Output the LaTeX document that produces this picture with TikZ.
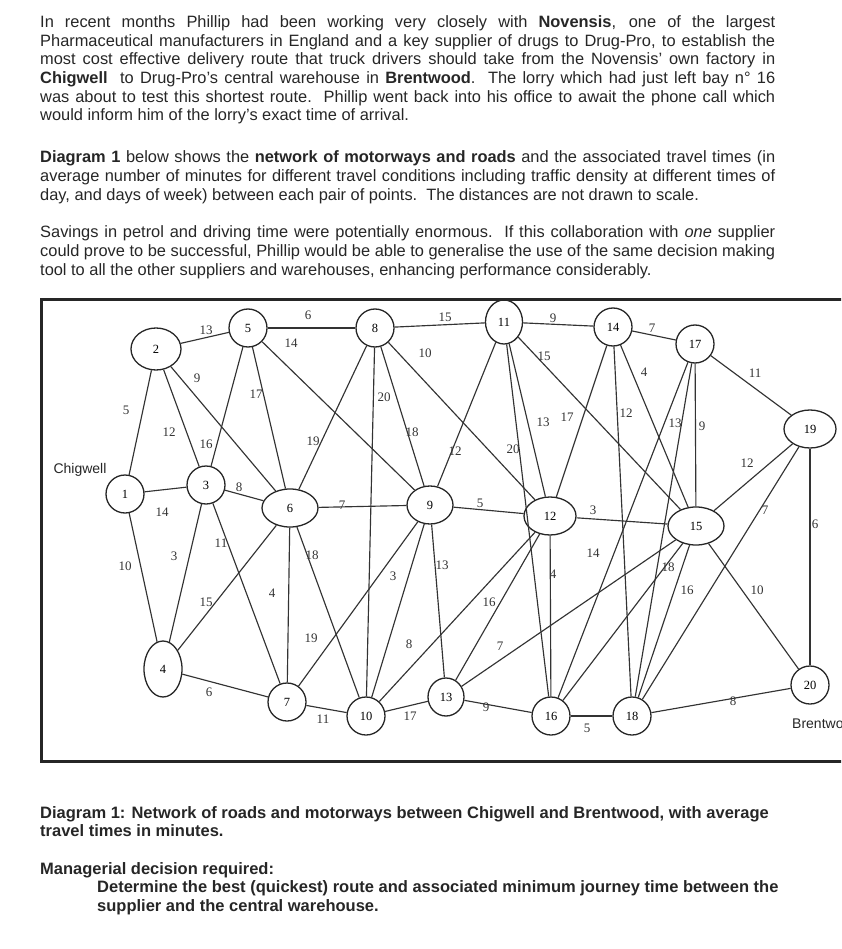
\documentclass[tikz,border=0pt]{standalone}
\usepackage{fontspec}
\setmainfont{Liberation Sans}
\newfontfamily\netfont{Liberation Serif}
\usetikzlibrary{shapes.geometric}

\newcommand{\jline}[1]{\makebox[735pt][s]{#1}}

\tikzset{
  junc/.style={ellipse,draw=black!85,line width=1.3pt,inner sep=0pt,
    minimum width=38pt,minimum height=38pt,font=\netfont\fontsize{12.5}{12.5}\selectfont},
  road/.style={draw=black!80,line width=1.15pt},
  wt/.style={inner sep=0pt,text=black!80,font=\netfont\fontsize{13}{13}\selectfont},
  txt/.style={anchor=base west,inner sep=0pt,text=black!85,font=\fontsize{16.4}{18.7}\selectfont},
  bold txt/.style={txt,font=\bfseries\fontsize{16.5}{18.7}\selectfont},
  place/.style={inner sep=0pt,text=black!85,font=\fontsize{14}{14}\selectfont},
}

\begin{document}
\begin{tikzpicture}[x=1pt,y=-1pt]
\path[use as bounding box] (0,0) rectangle (841,949);

% text above the diagram
\node[txt] (p1a) at (40,28) {\jline{In recent months Phillip had been working very closely with \textbf{Novensis}, one of the largest}};
\node[txt] (p1b) at (40,47) {\jline{Pharmaceutical manufacturers in England and a key supplier of drugs to Drug-Pro, to establish the}};
\node[txt] (p1c) at (40,65) {\jline{most cost effective delivery route that truck drivers should take from the Novensis’ own factory in}};
\node[txt] (p1d) at (40,84) {\jline{\textbf{Chigwell}\ \ to Drug-Pro’s central warehouse in \textbf{Brentwood}.\ \ The lorry which had just left bay n° 16}};
\node[txt] (p1e) at (40,103) {\jline{was about to test this shortest route.\ \ Phillip went back into his office to await the phone call which}};
\node[txt] (p1f) at (40,121) {would inform him of the lorry’s exact time of arrival.};

\node[txt] (p2a) at (40,163) {\jline{\textbf{Diagram 1} below shows the \textbf{network of motorways and roads} and the associated travel times (in}};
\node[txt] (p2b) at (40,182) {\jline{average number of minutes for different travel conditions including traffic density at different times of}};
\node[txt] (p2c) at (40,201) {day, and days of week) between each pair of points.\ \ The distances are not drawn to scale.};

\node[txt] (p3a) at (40,238) {\jline{Savings in petrol and driving time were potentially enormous.\ \ If this collaboration with \textit{one} supplier}};
\node[txt] (p3b) at (40,257) {\jline{could prove to be successful, Phillip would be able to generalise the use of the same decision making}};
\node[txt] (p3c) at (40,276) {tool to all the other suppliers and warehouses, enhancing performance considerably.};

% frame
\begin{scope}
\clip (0,0) rectangle (841,949);
\draw[line width=3pt,black!85] (41,299) rectangle (860,761);

% junctions
\node[junc] (n1) at (125,494) {1};
\node[junc,minimum width=50pt,minimum height=42pt] (n2) at (156,349) {2};
\node[junc] (n3) at (206,485) {3};
\node[junc,minimum height=56pt] (n4) at (163,669) {4};
\node[junc] (n5) at (248,328) {5};
\node[junc,minimum width=56pt] (n6) at (290,508) {6};
\node[junc] (n7) at (287,702) {7};
\node[junc] (n8) at (375,328) {8};
\node[junc,minimum width=46pt] (n9) at (430,505) {9};
\node[junc] (n10) at (366,716) {10};
\node[junc,minimum width=37pt,minimum height=44pt] (n11) at (504,322) {11};
\node[junc,minimum width=52pt] (n12) at (550,516) {12};
\node[junc,minimum width=36pt] (n13) at (446,697) {13};
\node[junc] (n14) at (613,327) {14};
\node[junc,minimum width=56pt] (n15) at (696,526) {15};
\node[junc] (n16) at (551,716) {16};
\node[junc] (n17) at (695,344) {17};
\node[junc] (n18) at (632,716) {18};
\node[junc,minimum width=52pt] (n19) at (810,429) {19};
\node[junc] (n20) at (810,685) {20};

\node[place] (chig) at (80,470) {Chigwell};
\node[place,anchor=west] (brent) at (792,723) {Brentwood};

% roads
\foreach \a/\b in {1/2,1/3,1/4,2/5,2/3,2/6,3/5,5/6,5/9,5/8,3/6,3/4,3/7,
    6/8,6/9,4/6,6/7,6/10,4/7,7/10,7/9,8/10,8/9,8/12,8/11,9/11,9/12,9/10,
    9/13,11/14,11/16,11/12,11/15,12/14,12/15,12/16,12/13,10/12,10/13,13/16,
    13/15,14/17,14/18,14/15,17/15,17/19,17/16,17/18,15/16,15/18,15/19,
    18/19,19/20,15/20,18/20,16/18}
  \draw[road] (n\a) -- (n\b);

% travel times
\foreach \w/\x/\y [count=\i] in {5/126/410,14/162/512,10/125/566,13/206/330,
    12/169/432,9/197/378,16/206/444,17/256/394,14/291/343,6/308/315,
    8/239/487,3/174/556,11/221/543,19/313/441,7/342/505,15/206/602,
    4/272/593,18/312/555,6/209/692,11/323/719,19/311/638,20/384/397,
    18/412/432,10/425/353,15/445/317,12/455/451,5/480/503,3/393/576,
    13/442/565,9/553/318,20/513/449,13/543/422,15/544/356,17/567/417,
    3/593/510,4/553/574,16/489/602,8/409/644,17/410/716,9/486/707,
    7/500/646,7/652/328,12/626/413,4/644/372,9/702/426,11/755/373,
    14/593/553,13/675/423,18/668/567,16/687/590,12/747/463,7/765/510,
    6/815/524,10/757/590,8/733/701,5/587/728}
  \node[wt] (w\i) at (\x,\y) {\w};
\end{scope}

% caption and question
\node[bold txt] (cap1) at (40,818) {Diagram 1: Network of roads and motorways between Chigwell and Brentwood, with average};
\node[bold txt] (cap2) at (40,836) {travel times in minutes.};
\node[bold txt] (q1) at (40,874) {Managerial decision required:};
\node[bold txt] (q2) at (97,892) {Determine the best (quickest) route and associated minimum journey time between the};
\node[bold txt] (q3) at (97,911) {supplier and the central warehouse.};
\end{tikzpicture}
\end{document}
